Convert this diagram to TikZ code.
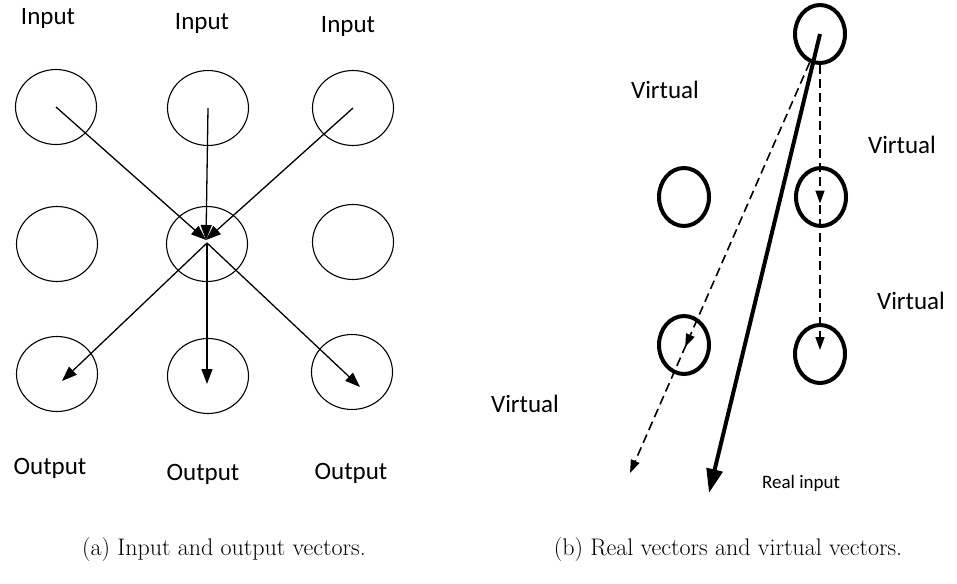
\documentclass[tikz,border=0pt]{standalone}
\usepackage{fontspec}
\newfontfamily\labelfont{Carlito}
\usetikzlibrary{arrows.meta,shapes.geometric,decorations.markings}
\begin{document}
\begin{tikzpicture}[x=1pt,y=-1pt,
  cell/.style={draw, ellipse, line width=1.1pt, minimum width=81pt, minimum height=75pt, inner sep=0pt},
  site/.style={draw, ellipse, line width=4pt, minimum width=50pt, minimum height=58pt, inner sep=0pt},
  lab/.style={font=\labelfont\fontsize{25}{30}\selectfont, inner sep=0pt},
  smalllab/.style={font=\labelfont\fontsize{19}{23}\selectfont, inner sep=0pt},
  captiontext/.style={font=\fontsize{24}{29}\selectfont, inner sep=0pt},
  vec/.style={line width=1.3pt, -{Triangle[length=15pt,width=11pt]}},
  realvec/.style={line width=4pt, -{Triangle[length=24pt,width=16pt]}},
  virt/.style={line width=1.6pt, dash pattern=on 9pt off 5pt, -{Triangle[length=13pt,width=9pt]}},
  midtip/.style={postaction={decorate}, decoration={markings,
      mark=at position #1 with {\arrow{Triangle[length=13pt,width=9pt]}}}}
]
\useasboundingbox (0,0) rectangle (957,583);

% ---------- (a) grid of input / output vectors ----------
\node[cell] (a11) at (56,107) {};
\node[cell] (a12) at (208,108) {};
\node[cell] (a13) at (353,108) {};
\node[cell] (a21) at (57,244) {};
\node[cell] (a22) at (207,244) {};
\node[cell] (a23) at (353,242) {};
\node[cell] (a31) at (57,374) {};
\node[cell] (a32) at (208,376) {};
\node[cell] (a33) at (352,372) {};

\node[lab] (in1) at (48,18) {Input};
\node[lab] (in2) at (202,23) {Input};
\node[lab] (in3) at (348,26) {Input};
\node[lab] (out1) at (50,468) {Output};
\node[lab] (out2) at (203,474) {Output};
\node[lab] (out3) at (351,473) {Output};

\coordinate (hubin) at (206,240);
\coordinate (hubout) at (207,243);
\coordinate (tip1) at (62,381);
\coordinate (tip2) at (207,384);
\coordinate (tip3) at (360,387);

\draw[vec] (a11.center) -- (hubin);
\draw[vec] (a12.center) -- (hubin);
\draw[vec] (a13.center) -- (hubin);
\draw[vec] (hubout) -- (tip1);
\draw[vec] (hubout) -- (tip2);
\draw[vec] (hubout) -- (tip3);

% ---------- (b) real and virtual vectors ----------
\node[site] (top) at (820,34) {};
\node[site] (ml) at (684,197) {};
\node[site] (mr) at (821,197) {};
\node[site] (bl) at (684,345) {};
\node[site] (br) at (820,354) {};

\node[lab] (v1) at (665,90) {Virtual};
\node[lab] (v2) at (902,145) {Virtual};
\node[lab] (v3) at (911,301) {Virtual};
\node[lab] (v4) at (525,404) {Virtual};
\node[smalllab] (real) at (801,483) {Real input};

\coordinate (vend) at (820,350);
\coordinate (dend) at (630,473);
\coordinate (rend) at (709,493);

\draw[virt, midtip=0.486] (top.south) -- (vend);
\draw[virt, midtip=0.693] (top.-110) -- (dend);
\draw[realvec] (top.center) -- (rend);

% ---------- captions ----------
\node[captiontext] (capa) at (224,550) {(a) Input and output vectors.};
\node[captiontext] (capb) at (728,550) {(b) Real vectors and virtual vectors.};
\end{tikzpicture}
\end{document}
